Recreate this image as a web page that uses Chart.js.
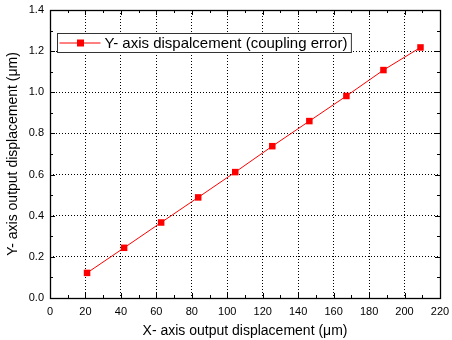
<!DOCTYPE html>
<html>
<head>
<meta charset="utf-8">
<script src="https://cdn.jsdelivr.net/npm/chart.js@4/dist/chart.umd.min.js"></script>
<style>
  html, body { margin: 0; padding: 0; background: #fff; }
  #wrap { width: 452px; height: 340px; position: relative; }
</style>
</head>
<body>
<div id="wrap"><canvas id="grafico"></canvas></div>
<script>
// datos
const xValores = [20.9, 41.8, 62.7, 83.6, 104.5, 125.4, 146.3, 167.2, 188.1, 209.0];
const yValores = [0.122, 0.244, 0.367, 0.489, 0.612, 0.738, 0.860, 0.982, 1.108, 1.218];
const serieNombre = 'Y- axis dispalcement (coupling error)';
const tituloX = 'X- axis output displacement (\u03bcm)';
const tituloY = 'Y- axis output displacement (\u03bcm)';

const fuente = '"Liberation Sans", Arial, sans-serif';
const rojo = '#ff0000';

// marco y marcas hacia dentro en los cuatro lados
const marcoPlugin = {
    id: 'marco',
    afterDraw(chart) {
        const { ctx, chartArea: a, scales } = chart;
        ctx.save();
        ctx.strokeStyle = '#000';
        ctx.lineWidth = 1;
        ctx.beginPath();
        const xs = scales.x, ys = scales.y;
        const xt = xs.ticks.map(t => t.value);
        const yt = ys.ticks.map(t => t.value);
        xt.forEach((v, i) => {
            const px = Math.round(xs.getPixelForValue(v)) + 0.5;
            ctx.moveTo(px, a.bottom); ctx.lineTo(px, a.bottom - 5);
            ctx.moveTo(px, a.top); ctx.lineTo(px, a.top + 5);
            if (i < xt.length - 1) {
                const pm = Math.round(xs.getPixelForValue((v + xt[i + 1]) / 2)) + 0.5;
                ctx.moveTo(pm, a.bottom); ctx.lineTo(pm, a.bottom - 3);
                ctx.moveTo(pm, a.top); ctx.lineTo(pm, a.top + 3);
            }
        });
        yt.forEach((v, i) => {
            const py = Math.round(ys.getPixelForValue(v)) + 0.5;
            ctx.moveTo(a.left, py); ctx.lineTo(a.left + 5, py);
            ctx.moveTo(a.right, py); ctx.lineTo(a.right - 5, py);
            if (i < yt.length - 1) {
                const pm = Math.round(ys.getPixelForValue((v + yt[i + 1]) / 2)) + 0.5;
                ctx.moveTo(a.left, pm); ctx.lineTo(a.left + 3, pm);
                ctx.moveTo(a.right, pm); ctx.lineTo(a.right - 3, pm);
            }
        });
        ctx.stroke();
        ctx.lineWidth = 1.3;
        ctx.strokeRect(Math.round(a.left) + 0.5, Math.round(a.top) + 0.5,
            Math.round(a.right - a.left), Math.round(a.bottom - a.top));
        ctx.restore();
    }
};

// leyenda dentro del área del gráfico
const leyendaPlugin = {
    id: 'leyendaDentro',
    afterDatasetsDraw(chart) {
        const { ctx, chartArea: a } = chart;
        const ds = chart.data.datasets[0];
        ctx.save();
        ctx.font = '15px ' + fuente;
        const anchoTexto = ctx.measureText(ds.label).width;
        const x0 = a.left + 7.5, y0 = 33.5;
        const alto = 19;
        const ancho = 47 + anchoTexto + 4;
        ctx.fillStyle = '#fff';
        ctx.fillRect(x0, y0, ancho, alto);
        ctx.strokeStyle = '#333';
        ctx.lineWidth = 1;
        ctx.strokeRect(x0, y0, ancho, alto);
        const cy = y0 + alto / 2;
        ctx.strokeStyle = ds.borderColor;
        ctx.beginPath();
        ctx.moveTo(x0 + 2, cy); ctx.lineTo(x0 + 43, cy);
        ctx.stroke();
        ctx.fillStyle = ds.backgroundColor;
        ctx.fillRect(x0 + 23 - 3.5, cy - 3.5, 7, 7);
        ctx.fillStyle = '#000';
        ctx.textBaseline = 'middle';
        ctx.fillText(ds.label, x0 + 47, cy + 0.5);
        ctx.restore();
    }
};

const ctx = document.getElementById('grafico').getContext('2d');
new Chart(ctx, {
    type: 'scatter',
    data: {
        datasets: [{
            label: serieNombre,
            data: xValores.map((x, i) => ({ x: x, y: yValores[i] })),
            showLine: true,
            borderColor: rojo,
            backgroundColor: rojo,
            borderWidth: 1,
            pointStyle: 'rect',
            pointRadius: 4.6,
            pointBorderWidth: 0
        }]
    },
    options: {
        responsive: true,
        maintainAspectRatio: false,
        animation: false,
        layout: { autoPadding: false, padding: { top: 10, right: 12, left: 0, bottom: 0 } },
        plugins: {
            legend: { display: false },
            tooltip: { enabled: false }
        },
        scales: {
            x: {
                type: 'linear',
                min: 0,
                max: 220,
                afterFit: s => { s.height = 42; s.paddingLeft = 0; s.paddingRight = 0; },
                ticks: {
                    stepSize: 20,
                    padding: 7,
                    color: '#000',
                    font: { family: fuente, size: 11 }
                },
                grid: { color: '#000', lineWidth: 1, drawTicks: false },
                border: { display: false, dash: [1, 2] },
                title: {
                    display: true,
                    text: tituloX,
                    color: '#000',
                    font: { family: fuente, size: 14 },
                    padding: { top: 0, bottom: 0 }
                }
            },
            y: {
                type: 'linear',
                min: 0,
                max: 1.4,
                afterFit: s => { s.width = 50; s.paddingTop = 0; s.paddingBottom = 0; },
                ticks: {
                    stepSize: 0.2,
                    padding: 6,
                    color: '#000',
                    font: { family: fuente, size: 11 },
                    callback: v => Number(v).toFixed(1)
                },
                grid: { color: '#000', lineWidth: 1, drawTicks: false },
                border: { display: false, dash: [1, 2] },
                title: {
                    display: true,
                    text: tituloY,
                    color: '#000',
                    font: { family: fuente, size: 14 },
                    padding: { top: 5, bottom: 0 }
                }
            }
        }
    },
    plugins: [leyendaPlugin, marcoPlugin]
});
</script>
</body>
</html>
